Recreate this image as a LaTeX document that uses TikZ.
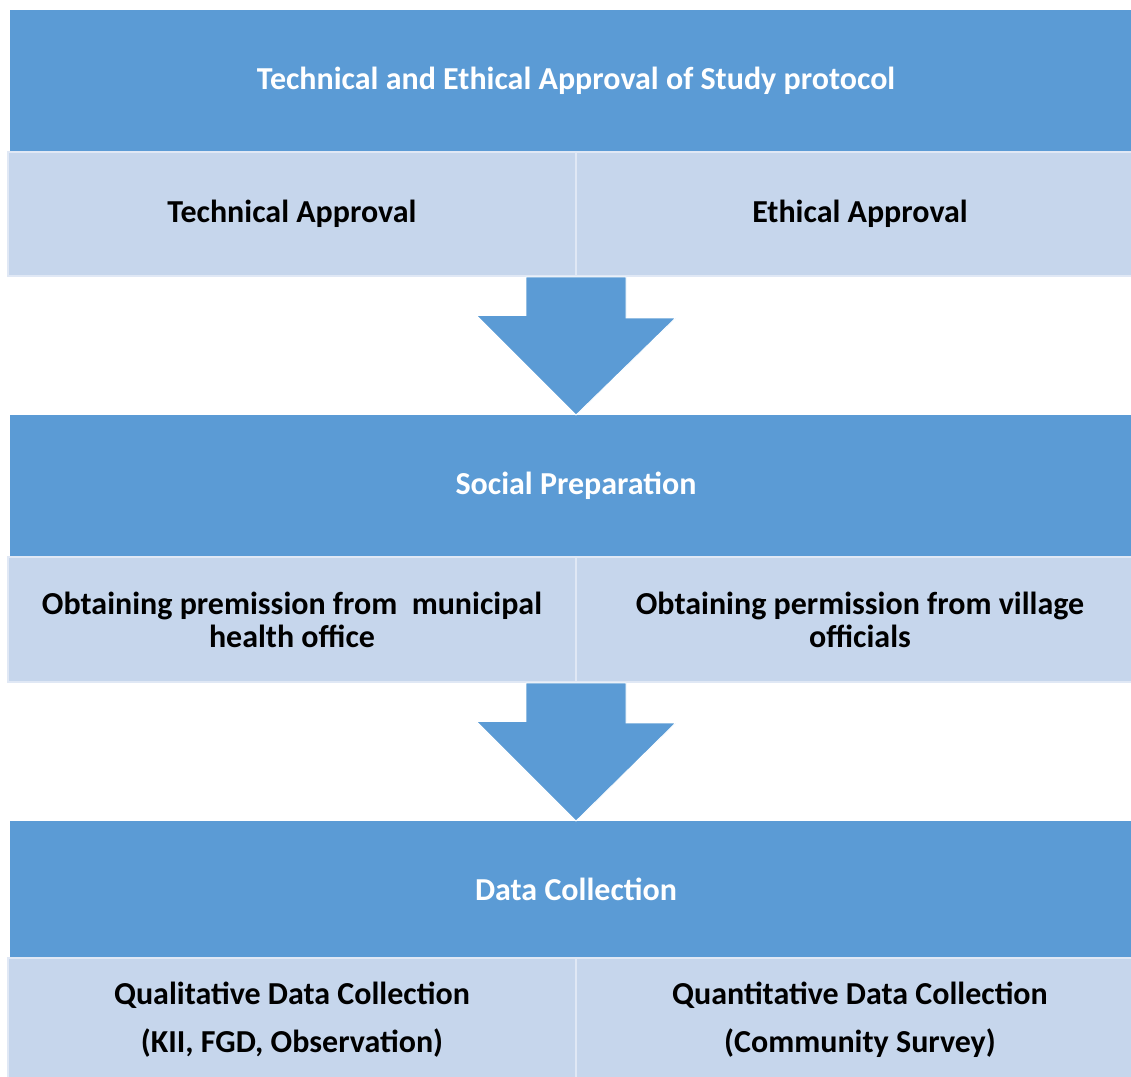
\documentclass[tikz,border=0pt]{standalone}
\usepackage{fontspec}
\setmainfont{Carlito}
\usetikzlibrary{positioning,calc}

\definecolor{hdrblue}{HTML}{5B9BD5}
\definecolor{cellblue}{HTML}{C6D6EC}

\begin{document}
\begin{tikzpicture}[x=1pt, y=-1pt,
    header/.style={rectangle, fill=hdrblue, text=white, font=\fontsize{32}{33}\selectfont\bfseries,
        minimum width=1132pt, minimum height=142pt, inner sep=0pt, outer sep=0pt},
    cell/.style={rectangle, fill=cellblue, draw=white!45!cellblue, line width=1.2pt, text=black,
        font=\fontsize{32}{33}\selectfont\bfseries, align=center,
        minimum width=568pt, minimum height=124pt, inner sep=0pt, outer sep=0pt},
    flow/.style={fill=hdrblue, draw=white, line width=0.8pt}]
    \useasboundingbox (0,0) rectangle (1131,1076);

    % Nodes {stages and their parts}
    \node [header]                      (approval) at (576,81)   {Technical and Ethical Approval of Study protocol};
    \node [cell]                        (tech)     at (292,214)  {Technical Approval};
    \node [cell]                        (ethic)    [right=0pt of tech] {Ethical Approval};

    \node [header, minimum height=142pt] (social)  at (576,486)  {Social Preparation};
    \node [cell, minimum height=125pt]  (health)   at (292,619.5) {Obtaining premission from~ municipal\\health office};
    \node [cell, minimum height=125pt]  (village)  [right=0pt of health] {Obtaining permission from village\\officials};

    \node [header, minimum height=136pt] (collect) at (576,889)  {Data Collection};
    \node [cell]                        (qual)     at (292,1020) {Qualitative Data Collection\\[15pt](KII, FGD, Observation)};
    \node [cell]                        (quant)    [right=0pt of qual] {Quantitative Data Collection\\[15pt](Community Survey)};

    % Paths
    \fill [flow] ($(tech.south east)+(-50,1)$) -- ++(100,0) -- ++(0,41) -- ++(49.5,0)
        -- (social.north) -- ++(-99.5,-99.5) -- ++(49.5,0) -- cycle;
    \fill [flow] ($(health.south east)+(-50,1)$) -- ++(100,0) -- ++(0,40) -- ++(49.5,0)
        -- (collect.north) -- ++(-99.5,-99.5) -- ++(49.5,0) -- cycle;
\end{tikzpicture}
\end{document}
